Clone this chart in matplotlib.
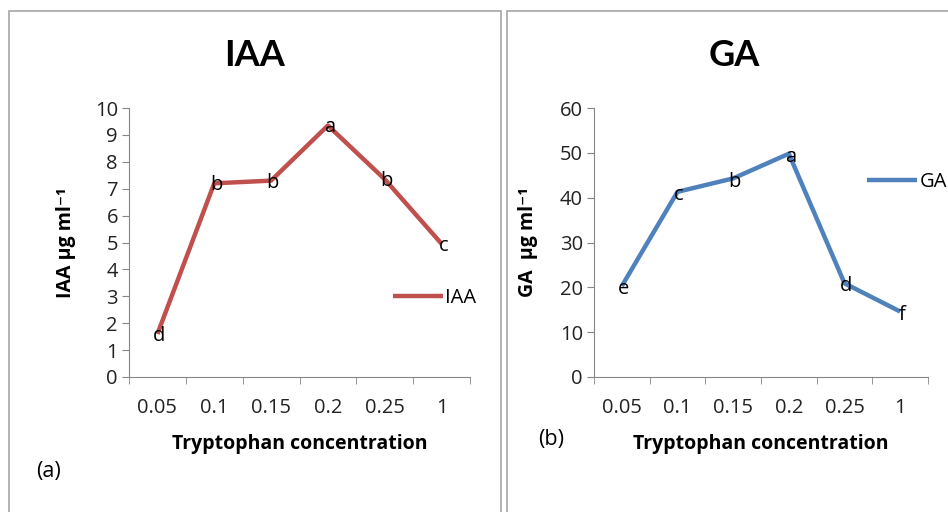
import matplotlib.pyplot as plt
from matplotlib.patches import Rectangle

plt.rcParams['font.family'] = ['Open Sans', 'DejaVu Sans']

# data
conc = ['0.05', '0.1', '0.15', '0.2', '0.25', '1']
iaa = [1.6, 7.2, 7.3, 9.35, 7.35, 4.95]
iaa_letters = ['d', 'b', 'b', 'a', 'b', 'c']
ga = [20.3, 41.3, 44.3, 49.8, 20.9, 14.6]
ga_letters = ['e', 'c', 'b', 'a', 'd', 'f']

fig = plt.figure(figsize=(9.48, 5.12), dpi=100)
W, H = 948, 512

# panel borders
for x0, x1 in [(9, 501), (507, 960)]:
    fig.patches.append(Rectangle((x0 / W, -0.1), (x1 - x0) / W, 1.1 - 10.5 / H,
                                 transform=fig.transFigure, fill=False,
                                 edgecolor='#a6a6a6', linewidth=1.2))


def panel(rect, vals, letters, color, ymax, ystep, title, ylabel, name,
          leg_xy, tag, tag_xy, title_x, ylab_x):
    ax = fig.add_axes(rect)
    x = list(range(len(conc)))
    line, = ax.plot(x, vals, color=color, linewidth=3.2, solid_capstyle='butt',
                    solid_joinstyle='round', label=name)
    for xi, v, l in zip(x, vals, letters):
        ax.text(xi + 0.03, v - 0.07 * ystep, l, ha='center', va='center',
                fontsize=14.5, color='black')
    ax.set_xlim(-0.5, len(conc) - 0.5)
    ax.set_ylim(0, ymax)
    ax.set_yticks(range(0, ymax + 1, ystep))
    ax.set_xticks(x)
    ax.set_xticklabels(conc)
    ax.set_xticks([i - 0.5 for i in range(len(conc) + 1)], minor=True)
    ax.tick_params(axis='x', which='major', length=0, pad=15, labelsize=14.5,
                   labelcolor='#222222')
    ax.tick_params(axis='x', which='minor', length=5, color='#868686')
    ax.tick_params(axis='y', length=5, color='#868686', labelsize=14.5, pad=3,
                   labelcolor='#222222')
    for s in ['top', 'right']:
        ax.spines[s].set_visible(False)
    for s in ['left', 'bottom']:
        ax.spines[s].set_color('#868686')
    ax.set_xlabel('Tryptophan concentration', fontsize=14, fontweight='bold')
    ax.xaxis.set_label_coords(0.5, -0.213)
    ax.set_ylabel(ylabel, fontsize=14, fontweight='bold')
    ax.yaxis.set_label_coords(ylab_x, 0.5)
    fig.text(title_x / W, 1 - 55 / H, title, ha='center', va='center',
             fontsize=26, fontweight='bold', family=['Lato', 'DejaVu Sans'])
    fig.legend(handles=[line], loc='center left',
               bbox_to_anchor=(leg_xy[0] / W, 1 - leg_xy[1] / H),
               frameon=False, fontsize=14.5, handlelength=2.5,
               handletextpad=0.1, borderpad=0, borderaxespad=0)
    fig.text(tag_xy[0] / W, 1 - tag_xy[1] / H, tag, ha='left', va='center',
             fontsize=15.5)
    return ax


panel([129 / W, 1 - 377 / H, 341 / W, 269 / H], iaa, iaa_letters, '#c0504d',
      10, 1, 'IAA', 'IAA μg ml⁻¹', 'IAA', (393, 298), '(a)', (36, 472), 255,
      -0.155)
panel([594 / W, 1 - 377 / H, 334 / W, 269 / H], ga, ga_letters, '#4f81bd',
      60, 10, 'GA', 'GA  μg ml⁻¹', 'GA', (867, 182), '(b)', (538, 440), 734,
      -0.168)

fig.savefig('out.png', dpi=100)
